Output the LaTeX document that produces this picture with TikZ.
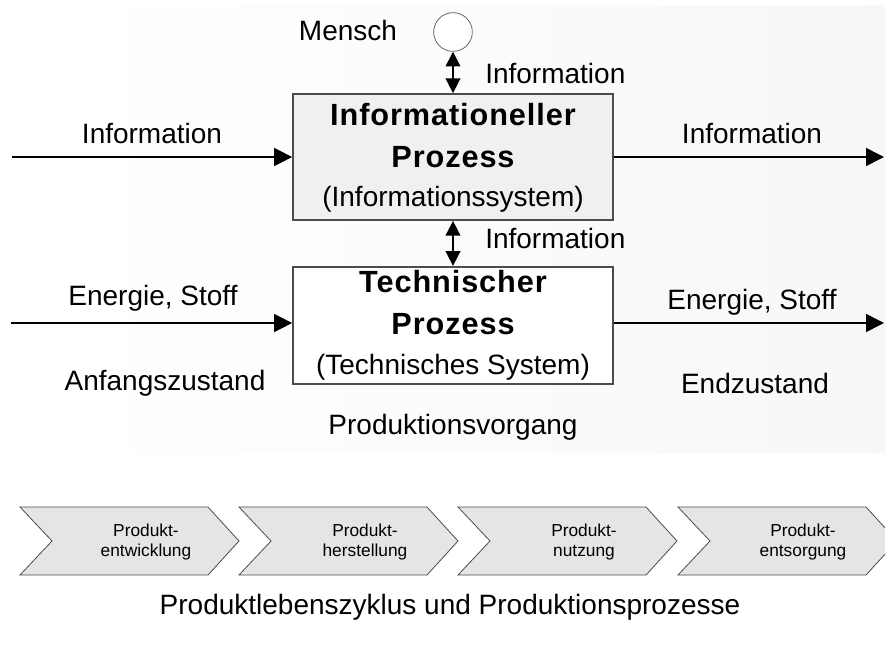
\documentclass[tikz,border=0pt]{standalone}
\usepackage{fontspec}
\setmainfont{Liberation Sans}
\usetikzlibrary{arrows.meta, positioning}
\tikzstyle{process} = [
    rectangle,
    minimum width=240pt,
    text centered,
    align=center,
    draw=black!70,
    line width=1.3pt,
    inner sep=0pt,
    font=\bfseries\fontsize{23}{31.5}\selectfont\addfontfeatures{LetterSpace=3}
]
\tikzstyle{arrow} = [
    line width=1.1pt,
    -{Triangle[length=13.5pt,width=13.5pt]}
]
\tikzstyle{dblarrow} = [
    line width=1.1pt,
    {Triangle[length=11pt,width=11pt]}-{Triangle[length=11pt,width=11pt]}
]
\tikzstyle{lbl} = [
    font=\fontsize{21}{25}\selectfont,
    inner sep=0pt
]
\tikzstyle{phase} = [
    draw=black!70,
    fill=black!10,
    line width=0.6pt
]
\tikzstyle{phasetext} = [
    font=\fontsize{13}{15}\selectfont,
    align=center,
    inner sep=0pt
]

\begin{document}
\begin{tikzpicture}[x=0.75pt, y=-0.75pt]
\useasboundingbox (0,0) rectangle (885,644);
\clip (0,0) rectangle (885,644);

% faint background of the process part
\shade[left color=white, right color=black!3] (77,5) rectangle (885,452);

\node (infoproc) [process, fill=black!6, minimum height=94.5pt, text depth=3pt] at (453,157)
    {Informationeller\\ Prozess\\[-2pt]
     {\mdseries\fontsize{21}{28}\selectfont\addfontfeatures{LetterSpace=0} (Informationssystem)}};
\node (techproc) [process, fill=white, minimum height=87.75pt, below=33.75pt of infoproc]
    {Technischer\\ Prozess\\[-2pt]
     {\mdseries\fontsize{21}{28}\selectfont\addfontfeatures{LetterSpace=0} (Technisches System)}};
\node (mensch) [circle, draw=black!60, fill=white, line width=0.6pt, minimum size=29pt, inner sep=0pt] at (453,32) {};
\node (lmensch) [lbl] at (348,30) {Mensch};

\draw[dblarrow] (mensch) -- (infoproc);
\draw[dblarrow] (infoproc) -- (techproc);
\node (linfotop) [lbl, anchor=west] at (485,73) {Information};
\node (linfomid) [lbl, anchor=west] at (485,238) {Information};

% inputs and outputs
\coordinate (infoin) at (12,157);
\coordinate (infoout) at (884,157);
\coordinate (stoffin) at (11,323);
\coordinate (stoffout) at (884,323);
\draw[arrow] (infoin) -- (infoproc);
\draw[arrow] (infoproc) -- (infoout);
\draw[arrow] (stoffin) -- (stoffin -| techproc.west);
\draw[arrow] (stoffout -| techproc.east) -- (stoffout);

\node (linfoin)  [lbl] at (152,133) {Information};
\node (linfoout) [lbl] at (752,133) {Information};
\node (lstoffin)  [lbl] at (153,298) {Energie, Stoff};
\node (lstoffout) [lbl] at (752,302) {Energie, Stoff};
\node (anfang) [lbl] at (165,383) {Anfangszustand};
\node (ende)   [lbl] at (755,383) {Endzustand};
\node (vorgang) [lbl] at (453,427) {Produktionsvorgang};

% life cycle phases
\draw[phase] (20,507) -- ++(188,0) -- ++(31,34) -- ++(-31,34) -- ++(-188,0) -- ++(32,-34) -- cycle;
\draw[phase] (239,507) -- ++(188,0) -- ++(31,34) -- ++(-31,34) -- ++(-188,0) -- ++(32,-34) -- cycle;
\draw[phase] (458,507) -- ++(188,0) -- ++(31,34) -- ++(-31,34) -- ++(-188,0) -- ++(32,-34) -- cycle;
\draw[phase] (678,507) -- ++(188,0) -- ++(31,34) -- ++(-31,34) -- ++(-188,0) -- ++(32,-34) -- cycle;
\node (entw) [phasetext] at (146,542) {Produkt-\\entwicklung};
\node (herst) [phasetext] at (365,542) {Produkt-\\herstellung};
\node (nutz) [phasetext] at (584,542) {Produkt-\\nutzung};
\node (entsorg) [phasetext] at (803,542) {Produkt-\\entsorgung};

\node (titel) [lbl] at (450,607) {Produktlebenszyklus und Produktionsprozesse};
\end{tikzpicture}
\end{document}
